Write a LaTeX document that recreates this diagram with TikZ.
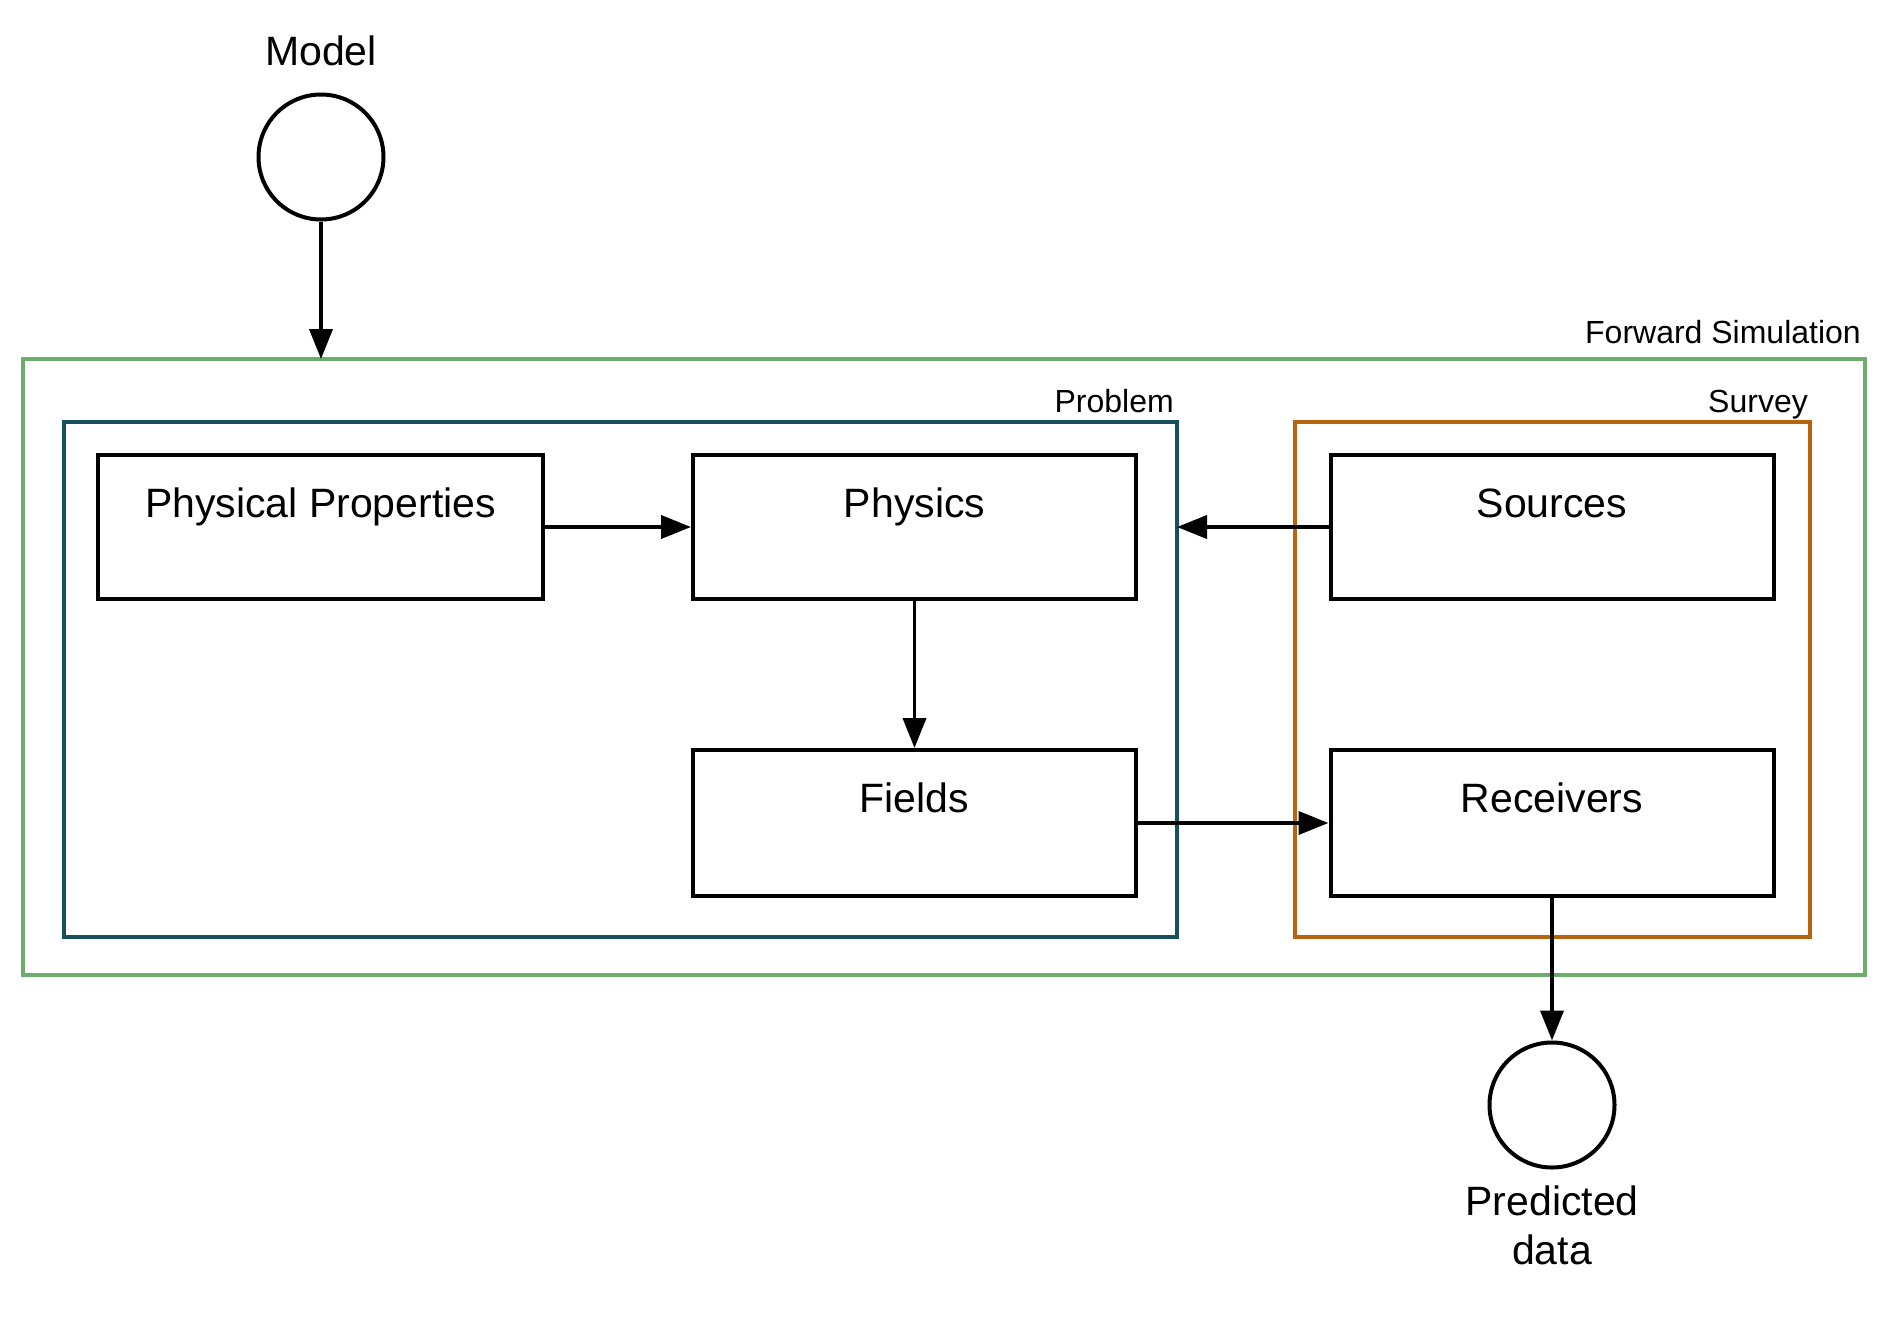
\documentclass[tikz,border=0pt]{standalone}
\usepackage{fontspec}
\setmainfont{Liberation Sans}
\usetikzlibrary{arrows.meta}

\definecolor{simgreen}{RGB}{108,172,108}
\definecolor{probteal}{RGB}{22,80,94}
\definecolor{survorange}{RGB}{186,98,12}

\begin{document}
\begin{tikzpicture}[x=1pt,y=-1pt,
  bigfont/.style={font=\fontsize{41}{49}\selectfont},
  smallfont/.style={font=\fontsize{32}{38}\selectfont},
  frame/.style={line width=3.6pt, inner sep=0pt},
  block/.style={draw=black, line width=4pt, fill=white, inner sep=0pt,
                minimum width=443pt, minimum height=144pt},
  blocktext/.style={bigfont, anchor=base, yshift=-64pt},
  state/.style={circle, draw=black, line width=4pt, minimum size=125pt, inner sep=0pt},
  flow/.style={line width=3.8pt, -{Triangle[length=30pt,width=23pt]}},
  grouplabel/.style={smallfont, anchor=base east, inner sep=0pt}
]
\useasboundingbox (0,0) rectangle (1901,1334);

% group frames
\draw[frame, draw=simgreen] (23,359) rectangle (1865,975);
\node[grouplabel] (fwdlabel) at (1861,343) {Forward Simulation};
\coordinate (fwdtop) at (321,359);

\draw[frame, draw=probteal] (64,422) rectangle (1177,937);
\node[grouplabel] (problabel) at (1174,412) {Problem};
\coordinate (probedge) at (1177,527);

\draw[frame, draw=survorange] (1295,422) rectangle (1810,937);
\node[grouplabel] (survlabel) at (1808,412) {Survey};

% blocks
\node[block, minimum width=445pt, label={[blocktext]north:Physical Properties}] (props) at (320.5,527) {};
\node[block, label={[blocktext]north:Physics}] (physics) at (914.5,527) {};
\node[block, label={[blocktext]north:Sources}] (sources) at (1552,527) {};
\node[block, minimum height=146pt, label={[blocktext]north:Fields}] (fields) at (914.5,823) {};
\node[block, minimum height=146pt, label={[blocktext]north:Receivers}] (receivers) at (1552,823) {};

% model and predicted data
\node[state] (model) at (321,157) {};
\node[bigfont, anchor=base] (modellabel) at (321,65) {Model};
\node[state] (pred) at (1552,1105) {};
\node[bigfont, anchor=base] (predlabel) at (1552,1215) {Predicted};
\node[bigfont, anchor=base] (predlabel2) at (1552,1264) {data};

% connectors
\draw[flow] (model.south) -- (fwdtop);
\draw[flow] (props.east) -- (physics.west);
\draw[flow] (sources.west) -- (probedge);
\draw[flow] (physics.south) -- (fields.north);
\draw[flow] (fields.east) -- (receivers.west);
\draw[flow] (receivers.south) -- (pred.north);
\end{tikzpicture}
\end{document}
